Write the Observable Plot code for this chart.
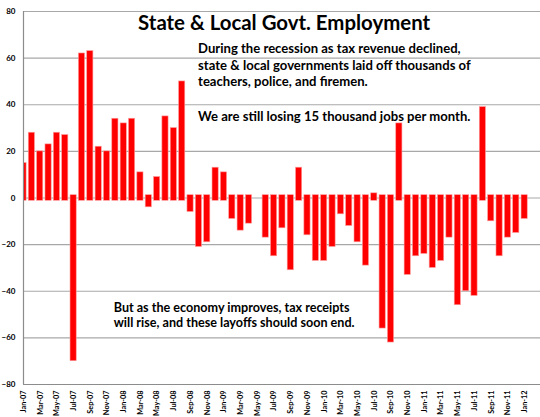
<!DOCTYPE html>
<html>
<head>
<meta charset="utf-8">
<script src="https://cdn.jsdelivr.net/npm/d3@7"></script>
<script src="https://cdn.jsdelivr.net/npm/@observablehq/plot@0.6"></script>
<style>
  html, body { margin: 0; padding: 0; background: #fff; }
  #chart svg { display: block; }
</style>
</head>
<body>
<div id="chart"></div>
<script>
// Month labels (categories)
const months = [
  "Jan-07","Feb-07","Mar-07","Apr-07","May-07","Jun-07","Jul-07","Aug-07","Sep-07","Oct-07","Nov-07","Dec-07",
  "Jan-08","Feb-08","Mar-08","Apr-08","May-08","Jun-08","Jul-08","Aug-08","Sep-08","Oct-08","Nov-08","Dec-08",
  "Jan-09","Feb-09","Mar-09","Apr-09","May-09","Jun-09","Jul-09","Aug-09","Sep-09","Oct-09","Nov-09","Dec-09",
  "Jan-10","Feb-10","Mar-10","Apr-10","May-10","Jun-10","Jul-10","Aug-10","Sep-10","Oct-10","Nov-10","Dec-10",
  "Jan-11","Feb-11","Mar-11","Apr-11","May-11","Jun-11","Jul-11","Aug-11","Sep-11","Oct-11","Nov-11","Dec-11",
  "Jan-12"
];
// Monthly change in state & local government employment (thousands)
const jobs = [
  15, 28, 20, 23, 28, 27, -70, 62, 63, 22, 20, 34,
  32, 34, 11, -4, 9, 35, 30, 50, -6, -21, -19, 13,
  11, -9, -14, -11, 0, -17, -25, -13, -31, 13, -16, -27,
  -27, -21, -7, -12, -19, -29, 2, -56, -62, 32, -33, -25,
  -24, -30, -27, -17, -46, -40, -42, 39, -10, -25, -17, -15,
  -9
];
// Y tick values
const yTicks = [-80, -60, -40, -20, 0, 20, 40, 60, 80];
// Annotation texts
const titleText = "State & Local Govt. Employment";
const noteLines = [
  "During the recession as tax revenue declined,",
  "state & local governments laid off thousands of",
  "teachers, police, and firemen."
];
const noteLine4 = "We are still losing 15 thousand jobs per month.";
const bottomLines = [
  "But as the economy improves, tax receipts",
  "will rise, and these layoffs should soon end."
];

const data = months.map((m, i) => ({i, m, v: jobs[i]}));
const xTickIdx = d3.range(0, months.length, 2);

const FONT = "Lato, 'Open Sans', 'DejaVu Sans', sans-serif";

const chart = Plot.plot({
  width: 540,
  height: 417,
  marginLeft: 23,
  marginRight: 0,
  marginTop: 11,
  marginBottom: 33,
  style: {fontFamily: FONT, fontWeight: "bold", color: "#000", background: "#fff"},
  x: {type: "linear", domain: [0, 61.9], axis: null},
  y: {domain: [-80, 80], axis: null},
  marks: [
    Plot.ruleY(yTicks, {stroke: "#a8a8a8", strokeWidth: 1.2}),
    Plot.rectY(data, {
      x1: d => d.i - 0.37,
      x2: d => d.i + 0.37,
      y1: d => d.v > 0 ? -1.2 : d.v < 0 ? 1.2 : 0,
      y2: "v",
      fill: "#ff0000",
      stroke: "#ff9c9c",
      strokeWidth: 0.6,
      clip: true
    }),
    Plot.ruleX([0], {stroke: "#8c8c8c", strokeWidth: 1.2}),
    Plot.ruleY([-80], {stroke: "#8c8c8c", strokeWidth: 1.2}),
    Plot.axisY(yTicks, {tickSize: 0, tickPadding: 8, fontSize: 8, fontWeight: "bold", label: null}),
    Plot.axisX(xTickIdx, {
      tickSize: 0, tickPadding: 6, tickRotate: -90, fontSize: 7.3, fontWeight: "bold",
      tickFormat: i => months[i], label: null
    }),
    Plot.text([titleText], {x: 31.2, y: 72.2, text: d => d, fontSize: 20.4, fontWeight: "bold", textAnchor: "middle", lineAnchor: "bottom", fill: "#000"}),
    Plot.text(noteLines, {x: 20.9, y: (d, i) => [62.3, 55.0, 48.1][i], text: d => d, fontSize: 13.1, fontWeight: "bold", textAnchor: "start", lineAnchor: "bottom", fill: "#000"}),
    Plot.text([noteLine4], {x: 20.9, y: 33.1, text: d => d, fontSize: 13.1, fontWeight: "bold", textAnchor: "start", lineAnchor: "bottom", fill: "#000"}),
    Plot.text(bottomLines, {x: 10.8, y: (d, i) => [-48.7, -55.2][i], text: d => d, fontSize: 12.6, fontWeight: "bold", textAnchor: "start", lineAnchor: "bottom", fill: "#000"})
  ]
});
document.getElementById("chart").appendChild(chart);
</script>
</body>
</html>
